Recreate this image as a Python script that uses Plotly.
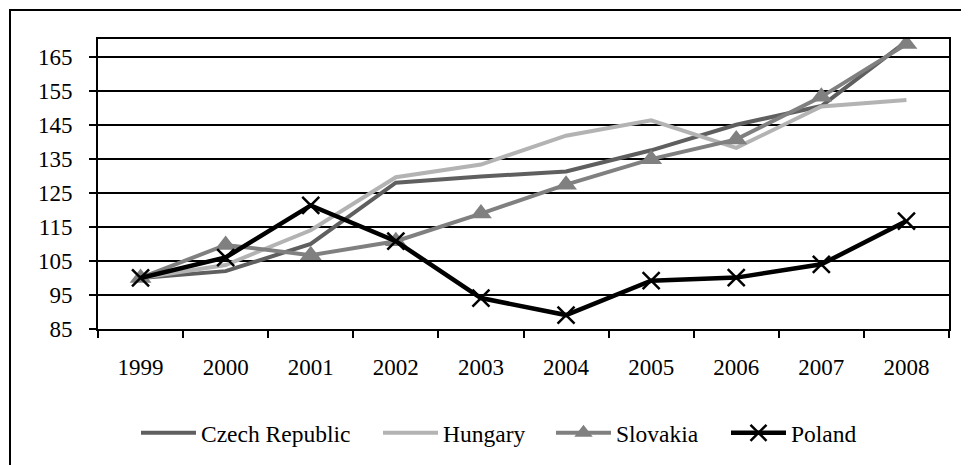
import plotly.graph_objects as go

years = ["1999", "2000", "2001", "2002", "2003", "2004", "2005", "2006", "2007", "2008"]
czech = [100, 102, 110, 128, 129.8, 131.3, 137.5, 145, 150.5, 169.5]
hungary = [100, 103.8, 114, 129.6, 133.3, 141.8, 146.3, 138.2, 150.4, 152.3]
slovakia = [100, 109.7, 106.7, 110.8, 118.9, 127.4, 134.9, 140.7, 153.2, 168.7]
poland = [100, 106, 121.3, 110.8, 94.1, 89.1, 99.2, 100.1, 104, 116.7]
y_ticks = [85, 95, 105, 115, 125, 135, 145, 155, 165]

# the page body adds an 8px margin, so the figure is drawn 8px smaller/offset
OFF = 8
W, H = 969 - OFF, 465 - OFF
L, R, T, B = 98 - OFF, 20, 39 - OFF, 135
pw, ph = W - L - R, H - T - B
FONT = "Liberation Serif, Times New Roman, serif"

def px_x(p):
    return (p - OFF - L) / pw

def px_y(p):
    return (H - B - (p - OFF)) / ph

fig = go.Figure()
fig.add_trace(go.Scatter(x=years, y=czech, name="Czech Republic", mode="lines",
                         line=dict(color="#5f5f5f", width=4), legend="legend"))
fig.add_trace(go.Scatter(x=years, y=hungary, name="Hungary", mode="lines",
                         line=dict(color="#b3b3b3", width=4), legend="legend2"))
fig.add_trace(go.Scatter(x=years, y=slovakia, name="Slovakia", mode="lines+markers",
                         line=dict(color="#808080", width=4),
                         marker=dict(symbol="triangle-up", size=19, color="#808080"),
                         legend="legend3"))
fig.add_trace(go.Scatter(x=years, y=poland, name="Poland", mode="lines+markers",
                         line=dict(color="#000000", width=4.5),
                         marker=dict(symbol="x-thin", size=17, color="#000000",
                                     line=dict(color="#000000", width=2.5)),
                         legend="legend4"))

def leg(xpx):
    return dict(orientation="h", x=px_x(xpx), xanchor="left", y=px_y(433), yanchor="middle",
                font=dict(family=FONT, size=23.5, color="black"),
                itemwidth=55, bgcolor="rgba(0,0,0,0)")

fig.update_layout(
    width=W, height=H,
    margin=dict(l=L, r=R, t=T, b=B),
    paper_bgcolor="white", plot_bgcolor="white",
    font=dict(family=FONT, size=23, color="black"),
    showlegend=True,
    legend=leg(136), legend2=leg(378), legend3=leg(551), legend4=leg(726),
    xaxis=dict(type="category", range=[-0.5, 9.5], tickson="boundaries",
               ticks="outside", ticklen=7, tickwidth=2, tickcolor="black",
               showline=True, linecolor="black", linewidth=2, mirror=True,
               showgrid=False, ticklabelstandoff=16,
               tickfont=dict(family=FONT, size=23, color="black")),
    yaxis=dict(range=[85, 170.2], tickvals=y_ticks, ticktext=[str(v) for v in y_ticks],
               ticks="outside", ticklen=7, tickwidth=2, tickcolor="black",
               showline=True, linecolor="black", linewidth=2, mirror=True,
               showgrid=True, gridcolor="black", gridwidth=1.6, zeroline=False,
               ticklabelstandoff=12,
               tickfont=dict(family=FONT, size=23, color="black")),
    shapes=[
        dict(type="line", xref="paper", yref="paper", x0=px_x(10), x1=px_x(980),
             y0=px_y(10), y1=px_y(10), line=dict(color="black", width=2)),
        dict(type="line", xref="paper", yref="paper", x0=px_x(10), x1=px_x(10),
             y0=px_y(9), y1=px_y(480), line=dict(color="black", width=2)),
    ],
)

fig.write_html("out.html")
